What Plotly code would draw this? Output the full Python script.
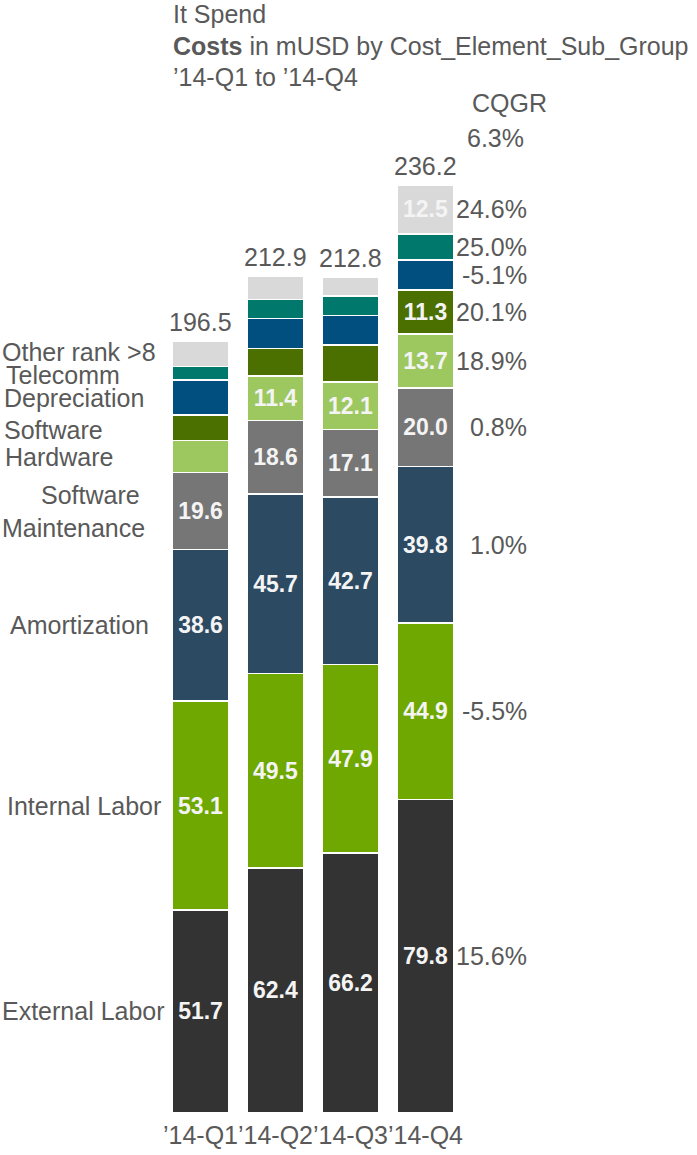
import plotly.graph_objects as go

# Quarterly IT spend (mUSD) by cost element sub group
quarters = ["’14-Q1", "’14-Q2", "’14-Q3", "’14-Q4"]

# stacked bottom to top
groups = [
    "External Labor", "Internal Labor", "Amortization", "Software Maintenance",
    "Hardware", "Software", "Depreciation", "Telecomm", "Other rank >8",
]
external_labor = [51.7, 62.4, 66.2, 79.8]
internal_labor = [53.1, 49.5, 47.9, 44.9]
amortization = [38.6, 45.7, 42.7, 39.8]
software_maintenance = [19.6, 18.6, 17.1, 20.0]
hardware = [8.2, 11.4, 12.1, 13.7]
software = [6.5, 7.0, 9.5, 11.3]
depreciation = [8.9, 7.6, 7.5, 7.6]
telecomm = [3.4, 4.8, 4.9, 6.6]
other_rank = [6.5, 5.9, 4.9, 12.5]

series = [external_labor, internal_labor, amortization, software_maintenance,
          hardware, software, depreciation, telecomm, other_rank]

# compound quarterly growth rate, Q1 -> Q4
cqgr = ["15.6%", "-5.5%", "1.0%", "0.8%", "18.9%", "20.1%", "-5.1%", "25.0%", "24.6%"]
cqgr_total = "6.3%"

colors = ["#333333", "#6FA800", "#2D4A63", "#767676", "#9CC85F",
          "#4B7000", "#004F7F", "#00786C", "#D9D9D9"]

FONT = "Liberation Sans, Arial, sans-serif"
GREY = "#595959"
W, H = 697, 1155
ML, MR, MT, MB = 163, 234, 80, 42
PW, PH = W - ML - MR, H - MT - MB
YMAX = 262.9


def px(xp):
    return (xp - ML) / PW


def py(yp):
    return (H - MB - yp) / PH


def label(text, x, y, xref="paper", yref="paper", xanchor="left", yshift=0):
    return dict(x=x, y=y, xref=xref, yref=yref, text=text, showarrow=False,
                xanchor=xanchor, yanchor="middle", yshift=yshift,
                font=dict(family=FONT, size=25, color=GREY))


fig = go.Figure()
for name, vals, col in zip(groups, series, colors):
    fig.add_trace(go.Bar(
        x=quarters, y=vals, name=name,
        marker=dict(color=col, line=dict(color="#ffffff", width=1.5)),
        text=[f"{v:.1f}" if v >= 10 else "" for v in vals],
        textposition="inside", insidetextanchor="middle", textangle=0,
        textfont=dict(family=FONT, size=23, color="#f4f4f4", weight="bold"),
        constraintext="none", cliponaxis=False,
        hoverinfo="skip",
    ))

totals = [round(sum(s[i] for s in series), 1) for i in range(len(quarters))]

ann = []
for q, t in zip(quarters, totals):
    ann.append(label(f"{t:.1f}", q, t, xref="x", yref="y", xanchor="center", yshift=19))

# category names beside the first bar, growth rates beside the last
q1_base = 0.0
q4_base = 0.0
left_pos = {
    "External Labor": 0, "Internal Labor": 5, "Amortization": 8,
    "Hardware": 3, "Software": 2, "Depreciation": 2, "Telecomm": 4,
    "Other rank >8": 0,
}
# thin segments: names are spread out so they stay legible
left_mid = {"Telecomm": 375, "Other rank >8": 352, "Software": 430,
            "Depreciation": 398, "Hardware": 457}
for name, vals, rate in zip(groups, series, cqgr):
    mid1 = q1_base + vals[0] / 2
    mid4 = q4_base + vals[3] / 2
    q1_base += vals[0]
    q4_base += vals[3]
    if name == "Software Maintenance":
        ann.append(label("Software", px(39), mid1, yref="y", yshift=16))
        ann.append(label("Maintenance", px(0), mid1, yref="y", yshift=-17))
    elif name in left_mid:
        ann.append(label(name, px(left_pos[name]), py(left_mid[name])))
    else:
        ann.append(label(name, px(left_pos[name]), mid1, yref="y"))
    ann.append(label(rate, px(529), mid4, yref="y", xanchor="right"))

ann.append(label("CQGR", px(509), py(103), xanchor="center"))
ann.append(label(cqgr_total, px(526), py(138), xanchor="right"))

# title block
title_lines = ["It Spend",
               "<b>Costs</b> in mUSD by Cost_Element_Sub_Group",
               "’14-Q1 to ’14-Q4"]
for line, yp in zip(title_lines, [14, 46, 77]):
    ann.append(label(line, px(171), py(yp)))

fig.update_layout(
    width=W, height=H, barmode="stack", bargap=0.24,
    margin=dict(l=ML, r=MR, t=MT, b=MB, pad=0, autoexpand=False),
    paper_bgcolor="white", plot_bgcolor="white",
    showlegend=False, annotations=ann,
    font=dict(family=FONT, color=GREY),
    xaxis=dict(range=[-0.5, 3.5], showgrid=False, zeroline=False, showline=False,
               ticks="", tickangle=0, automargin=False, ticklabelstandoff=5,
               tickfont=dict(family=FONT, size=25, color=GREY),
               fixedrange=True),
    yaxis=dict(range=[0, YMAX], visible=False, fixedrange=True, automargin=False),
)

fig.write_html("out.html", config={"displayModeBar": False})
